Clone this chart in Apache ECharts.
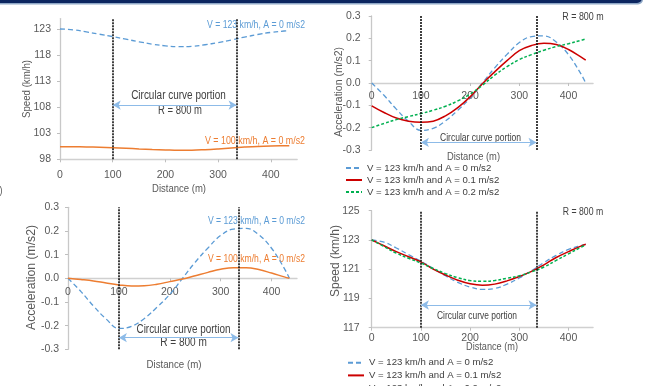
<!DOCTYPE html>
<html>
<head>
<meta charset="utf-8">
<script src="https://cdn.jsdelivr.net/npm/echarts@6.0.0/dist/echarts.min.js"></script>
<style>
  html, body { margin: 0; padding: 0; background: #fff; }
  #chart { width: 649px; height: 386px; }
</style>
</head>
<body>
<div id="chart"></div>
<script>
// distance along the curve (m)
const distance = [0, 25, 50, 75, 100, 125, 150, 175, 200, 225, 250, 275, 300, 325, 350, 375, 400, 425, 435]

// speed profiles (km/h)
const speedV123A0 = [123, 122.85, 122.45, 122.0, 121.55, 121.05, 120.55, 120.1, 119.78, 119.62, 119.68, 119.98, 120.4, 120.9, 121.45, 121.95, 122.35, 122.62, 122.7]
const speedV123A01 = [123, 122.6, 122.2, 121.85, 121.5, 121.0, 120.6, 120.25, 120.0, 119.9, 119.98, 120.2, 120.5, 120.85, 121.3, 121.8, 122.2, 122.58, 122.7]
const speedV123A02 = [123, 122.55, 122.1, 121.75, 121.42, 121.05, 120.7, 120.42, 120.22, 120.17, 120.23, 120.38, 120.55, 120.82, 121.15, 121.6, 122.05, 122.5, 122.66]
const speedV100A0 = [100.43, 100.42, 100.38, 100.32, 100.24, 100.13, 100.0, 99.88, 99.8, 99.74, 99.75, 99.85, 100.0, 100.18, 100.34, 100.47, 100.55, 100.59, 100.6]

// acceleration profiles (m/s2)
const accV123A0 = [0, -0.055, -0.117, -0.172, -0.212, -0.203, -0.17, -0.122, -0.068, 0, 0.068, 0.128, 0.181, 0.208, 0.211, 0.184, 0.127, 0.042, 0]
const accV123A01 = [-0.102, -0.132, -0.157, -0.171, -0.176, -0.171, -0.147, -0.11, -0.062, -0.003, 0.05, 0.1, 0.145, 0.168, 0.178, 0.172, 0.15, 0.117, 0.102]
const accV123A02 = [-0.2, -0.181, -0.164, -0.15, -0.137, -0.122, -0.104, -0.08, -0.05, -0.01, 0.035, 0.073, 0.105, 0.127, 0.147, 0.163, 0.176, 0.191, 0.197]
const accV100A0 = [0, -0.005, -0.011, -0.02, -0.028, -0.033, -0.032, -0.025, -0.014, -0.003, 0.011, 0.025, 0.038, 0.045, 0.045, 0.037, 0.022, 0.006, 0]

// tick labels
const distanceTicks = [0, 100, 200, 300, 400]
const speedTicksTop = [98, 103, 108, 113, 118, 123]
const speedTicksBottom = [117, 119, 121, 123, 125]
const accTicks = [-0.3, -0.2, -0.1, 0, 0.1, 0.2, 0.3]

// circular curve portion
const curveStart = 100
const curveEnd = 335

const names = ['V = 123 km/h and A = 0 m/s2', 'V = 123 km/h and A = 0.1 m/s2', 'V = 123 km/h and A = 0.2 m/s2']

const FONT = "'Liberation Sans', Arial, sans-serif"
const BLUE = '#5b9bd5'
const ORANGE = '#ed7d31'
const RED = '#cc0000'
const GREEN = '#00b050'
const GREY_TXT = '#595959'
const DARK_TXT = '#404040'

const pair = (ys) => distance.map((d, i) => [d, ys[i]])

const grids = [
  { left: 60, top: 18.6, width: 237.2, height: 140.7 },
  { left: 371.7, top: 16, width: 221.4, height: 134 },
  { left: 68, top: 207.3, width: 229, height: 142 },
  { left: 371.7, top: 210.7, width: 221.4, height: 117 }
]

// the x axis of the acceleration panels sits on the zero line
const xAxisFor = (gi, margin, onZeroOffset) => ({
  type: 'value', gridIndex: gi, min: 0, max: 450,
  offset: onZeroOffset ? -grids[gi].height / 2 : 0,
  axisLine: { show: true, onZero: false, lineStyle: { color: '#d0d0d0', width: 1.3 } },
  axisTick: { show: true, length: 3, lineStyle: { color: '#bfbfbf' }, customValues: distanceTicks },
  axisLabel: { color: GREY_TXT, fontSize: 10.5, fontFamily: FONT, margin: margin, customValues: distanceTicks },
  splitLine: { show: false }
})

const yAxisFor = (gi, min, max, ticks, fmt, margin) => ({
  type: 'value', gridIndex: gi, min: min, max: max,
  axisLine: { show: true, lineStyle: { color: '#c8c8c8', width: 1.3 } },
  axisTick: { show: true, length: 3, lineStyle: { color: '#bfbfbf' }, customValues: ticks },
  axisLabel: { color: GREY_TXT, fontSize: 10.5, fontFamily: FONT, margin: margin, customValues: ticks, formatter: fmt },
  splitLine: { show: false }
})

const accFmt = (v) => (Math.abs(v) < 1e-9 ? 0 : v).toFixed(1)

const curveLines = (arrowY) => ({
  silent: true,
  symbol: 'none',
  label: { show: false },
  animation: false,
  data: [
    { xAxis: curveStart, lineStyle: { color: '#111', type: [2, 1], width: 1.6 } },
    { xAxis: curveEnd, lineStyle: { color: '#111', type: [2, 1], width: 1.6 } },
    [
      { coord: [curveStart, arrowY], symbol: 'arrow', lineStyle: { color: '#8dbbe8', type: 'solid', width: 1.2 } },
      { coord: [curveEnd, arrowY], symbol: 'arrow' }
    ]
  ],
  symbolSize: [7, 8]
})

const line = (name, gi, ys, color, type, width, extra) => Object.assign({
  type: 'line', name: name, xAxisIndex: gi, yAxisIndex: gi,
  data: pair(ys), smooth: 0.4, symbol: 'none',
  lineStyle: { color: color, type: type, width: width },
  itemStyle: { color: color },
  animation: false
}, extra || {})

// text squeezed to the width it has in the picture (the original face is narrower than Arial)
const measure = document.createElement('canvas').getContext('2d')
const txt = (text, x, y, w, opts) => {
  const size = (opts && opts.size) || 11.5
  const font = size + 'px ' + FONT
  measure.font = font
  const sx = w / measure.measureText(text).width
  return {
    type: 'text', x: x, y: y, rotation: (opts && opts.rotation) || 0, scaleX: sx, silent: true,
    style: {
      text: text, font: font,
      fill: (opts && opts.color) || GREY_TXT,
      textAlign: (opts && opts.align) || 'center', textVerticalAlign: 'middle'
    }
  }
}

const legendFor = (left, top, lh) => ({
  data: names, orient: 'vertical', left: left, top: top, height: 60,
  itemWidth: 16, itemHeight: 8, itemGap: 0, padding: 0,
  selectedMode: false,
  itemStyle: { opacity: 0 },
  textStyle: { color: DARK_TXT, fontSize: 9.6, fontFamily: FONT, lineHeight: lh }
})

const option = {
  backgroundColor: '#fff',
  animation: false,
  grid: grids,
  xAxis: [xAxisFor(0, 10, false), xAxisFor(1, 8, true), xAxisFor(2, 8, true), xAxisFor(3, 5, false)],
  yAxis: [
    yAxisFor(0, 98, 125, speedTicksTop, null, 9),
    yAxisFor(1, -0.3, 0.3, accTicks, accFmt, 11),
    yAxisFor(2, -0.3, 0.3, accTicks, accFmt, 9),
    yAxisFor(3, 117, 125, speedTicksBottom, null, 12)
  ],
  legend: [legendFor(345, 162, 12), legendFor(347, 356.5, 12.6)],
  series: [
    // top left: speed
    line('V = 123 km/h, A = 0 m/s2 (speed)', 0, speedV123A0, BLUE, [5, 3], 1.3, { markLine: curveLines(108.4) }),
    line('V = 100 km/h, A = 0 m/s2 (speed)', 0, speedV100A0, ORANGE, 'solid', 1.5),
    // top right: acceleration
    line(names[0], 1, accV123A0, BLUE, [5, 3], 1.3, { markLine: curveLines(-0.266) }),
    line(names[1], 1, accV123A01, RED, 'solid', 1.5),
    line(names[2], 1, accV123A02, GREEN, [3, 2], 1.5),
    // bottom left: acceleration
    line('V = 123 km/h, A = 0 m/s2 (acc)', 2, accV123A0, BLUE, [5, 3], 1.3, { markLine: curveLines(-0.251) }),
    line('V = 100 km/h, A = 0 m/s2 (acc)', 2, accV100A0, ORANGE, 'solid', 1.5),
    // bottom right: speed
    line(names[0], 3, speedV123A0, BLUE, [5, 3], 1.3, { markLine: curveLines(118.55) }),
    line(names[1], 3, speedV123A01, RED, 'solid', 1.5),
    line(names[2], 3, speedV123A02, GREEN, [3, 2], 1.5)
  ],
  graphic: [
    // header bar
    { type: 'rect', shape: { x: -10, y: -10, width: 653, height: 14.5, r: [0, 0, 5, 0] }, style: { fill: '#8ea7c6' }, silent: true },
    { type: 'rect', shape: { x: -10, y: -10, width: 652, height: 13, r: [0, 0, 5, 0] }, style: { fill: '#0c2660' }, silent: true },
    txt(')', 1, 191, 3),
    // top left
    txt('Speed (km/h)', 27, 89, 58, { rotation: Math.PI / 2 }),
    txt('Distance (m)', 179, 189, 54),
    txt('V = 123 km/h, A = 0 m/s2', 305, 25, 98, { align: 'right', color: BLUE, size: 11.5 }),
    txt('V = 100 km/h, A = 0 m/s2', 305, 141, 100, { align: 'right', color: ORANGE, size: 11.5 }),
    txt('Circular curve portion', 178.5, 96, 94.7, { color: DARK_TXT, size: 12 }),
    txt('R = 800 m', 180, 110.5, 44, { color: DARK_TXT, size: 12 }),
    // top right
    txt('Acceleration (m/s2)', 338.5, 92, 90, { rotation: Math.PI / 2 }),
    txt('Distance (m)', 473.5, 156.5, 53),
    txt('R = 800 m', 583, 17, 41.3, { color: DARK_TXT, size: 11 }),
    txt('Circular curve portion', 480.5, 137.5, 81, { color: DARK_TXT, size: 11 }),
    // bottom left
    txt('Acceleration (m/s2)', 32, 277.5, 105, { rotation: Math.PI / 2, size: 12 }),
    txt('Distance (m)', 174, 365, 55),
    txt('V = 123 km/h, A = 0 m/s2', 305, 221, 97, { align: 'right', color: BLUE, size: 11.5 }),
    txt('V = 100 km/h, A = 0 m/s2', 305, 259, 97, { align: 'right', color: ORANGE, size: 11.5 }),
    txt('Circular curve portion', 183.5, 330, 94, { color: DARK_TXT, size: 12 }),
    txt('R = 800 m', 183.5, 343, 46.7, { color: DARK_TXT, size: 12 }),
    // bottom right
    txt('Speed (km/h)', 336, 261, 72, { rotation: Math.PI / 2, size: 12 }),
    txt('Distance (m)', 492, 347, 52),
    txt('R = 800 m', 583, 212, 40.3, { color: DARK_TXT, size: 11 }),
    txt('Circular curve portion', 477, 315.5, 80, { color: DARK_TXT, size: 11 })
  ]
}

const chart = echarts.init(document.getElementById('chart'), null, { renderer: 'canvas' })
chart.setOption(option)
</script>
</body>
</html>
